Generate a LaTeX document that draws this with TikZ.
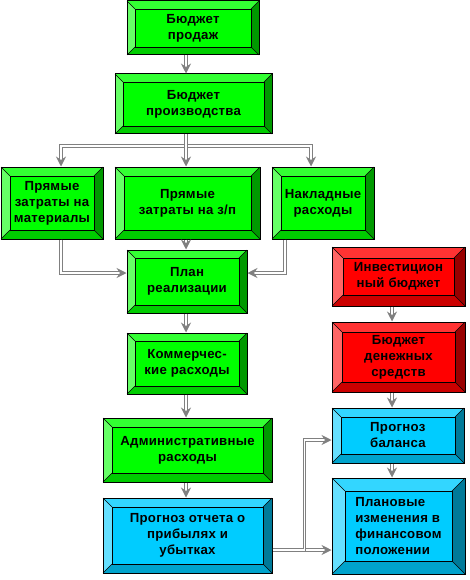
\documentclass[tikz,border=0pt]{standalone}
\usepackage{fontspec}
\setmainfont{Liberation Sans}[LetterSpace=2]
\usetikzlibrary{arrows.meta,calc}
\definecolor{gL}{HTML}{66FF66}\definecolor{gT}{HTML}{33FF33}\definecolor{gF}{HTML}{00FF00}
\definecolor{gR}{HTML}{009900}\definecolor{gB}{HTML}{00CC00}
\definecolor{rL}{HTML}{FF6666}\definecolor{rT}{HTML}{FF3333}\definecolor{rF}{HTML}{FF0000}
\definecolor{rR}{HTML}{990000}\definecolor{rB}{HTML}{CC0000}
\definecolor{cL}{HTML}{66E0FF}\definecolor{cT}{HTML}{33D6FF}\definecolor{cF}{HTML}{00CCFF}
\definecolor{cR}{HTML}{007A99}\definecolor{cB}{HTML}{00A3CC}
\definecolor{cgray}{HTML}{808080}
\tikzset{
  outerbox/.style={draw=black, line width=1pt, inner sep=0pt},
  facebox/.style={draw=black, line width=0.8pt},
  diag/.style={draw=black, line width=0.5pt},
  boxtext/.style={inner sep=0pt, font=\fontsize{13.2}{16}\selectfont\bfseries, text=black},
  conn/.style={draw=cgray, line width=0.9pt, double=white, double distance=1.8pt,
    -{Stealth[length=10pt,width=10pt,inset=3.5pt]}},
}
% #1 name, #2 x1, #3 y1, #4 x2, #5 y2, #6 bevel, #7 palette, #8 align, #9 text
\newcommand\bevbox[9]{%
  \fill[#7L] (#2,#3) -- ({#2+#6},{#3+#6}) -- ({#2+#6},{#5-#6}) -- (#2,#5) -- cycle;
  \fill[#7T] (#2,#3) -- (#4,#3) -- ({#4-#6},{#3+#6}) -- ({#2+#6},{#3+#6}) -- cycle;
  \fill[#7R] (#4,#3) -- (#4,#5) -- ({#4-#6},{#5-#6}) -- ({#4-#6},{#3+#6}) -- cycle;
  \fill[#7B] (#2,#5) -- (#4,#5) -- ({#4-#6},{#5-#6}) -- ({#2+#6},{#5-#6}) -- cycle;
  \draw[diag] (#2,#3) -- ({#2+#6},{#3+#6}) (#4,#3) -- ({#4-#6},{#3+#6})
              (#4,#5) -- ({#4-#6},{#5-#6}) (#2,#5) -- ({#2+#6},{#5-#6});
  \draw[facebox, fill=#7F] ({#2+#6},{#3+#6}) rectangle ({#4-#6},{#5-#6});
  \node[outerbox, minimum width={#4pt-#2pt}, minimum height={#5pt-#3pt}] (#1)
     at ({(#2+#4)/2},{(#3+#5)/2}) {};
  \node[boxtext, align=#8] (#1-t) at ({(#2+#4)/2},{(#3+#5)/2}) {#9};
}
\begin{document}
\begin{tikzpicture}[x=1pt,y=-1pt]
\useasboundingbox (0,0) rectangle (469,580);
\bevbox{sales}{127}{1}{259}{55}{8}{g}{center}{Бюджет\\продаж}
\bevbox{prod}{115}{74}{272}{134}{8}{g}{center}{Бюджет\\производства}
\bevbox{mat}{1}{167}{103}{239}{9}{g}{center}{Прямые\\затраты на\\материалы}
\bevbox{zp}{115}{167}{260}{239}{9}{g}{center}{Прямые\\затраты на з/п}
\bevbox{nakl}{272}{167}{374}{239}{9}{g}{center}{Накладные\\расходы}
\bevbox{plan}{127}{250}{247}{313}{8}{g}{center}{План\\реализации}
\bevbox{comm}{127}{333}{247}{394}{8}{g}{center}{Коммерчес-\\кие расходы}
\bevbox{admin}{103}{418}{272}{482}{9}{g}{center}{Административные\\расходы}
\bevbox{otchet}{103}{498}{272}{573}{9}{c}{center}{Прогноз отчета о\\прибылях и\\убытках}
\bevbox{invest}{332}{247}{465}{306}{11}{r}{center}{Инвестицион\\ный бюджет}
\bevbox{cash}{332}{322}{465}{392}{10}{r}{center}{Бюджет\\денежных\\средств}
\bevbox{balance}{332}{408}{464}{463}{9}{c}{left}{Прогноз\\баланса}
\bevbox{plans}{332}{478}{465}{574}{13}{c}{left}{Плановые\\изменения в\\финансовом\\положении}
% guide coordinates
\coordinate (cx) at (186,0);
\coordinate (lx) at (61,0);
\coordinate (rx) at (311,0);
\coordinate (nx) at (285,0);
\coordinate (fy) at (0,146);
\coordinate (py) at (0,273);
\coordinate (bx) at (392,0);
\coordinate (vx) at (304.5,0);
\coordinate (by) at (0,440);
\coordinate (oy) at (0,550);
% connectors
\draw[conn] (sales.south -| cx) -- (prod.north -| cx);
\draw[conn] (prod.south -| cx) |- (lx |- fy) -- (mat.north -| lx);
\draw[conn] (prod.south -| cx) |- (rx |- fy) -- (nakl.north -| rx);
\draw[conn] (prod.south -| cx) -- (zp.north -| cx);
\draw[conn] (mat.south -| lx) |- (plan.west |- py);
\draw[conn] (nakl.south -| nx) |- (plan.east |- py);
\draw[conn] (zp.south -| cx) -- (plan.north -| cx);
\draw[conn] (plan.south -| cx) -- (comm.north -| cx);
\draw[conn] (comm.south -| cx) -- (admin.north -| cx);
\draw[conn] (admin.south -| cx) -- (otchet.north -| cx);
\draw[conn] (otchet.east |- oy) -- (plans.west |- oy);
\draw[conn] (otchet.east |- oy) -- (vx |- oy) |- (balance.west |- by);
\draw[conn] (invest.south -| bx) -- (cash.north -| bx);
\draw[conn] (cash.south -| bx) -- (balance.north -| bx);
\draw[conn] (balance.south -| bx) -- (plans.north -| bx);
\end{tikzpicture}
\end{document}
